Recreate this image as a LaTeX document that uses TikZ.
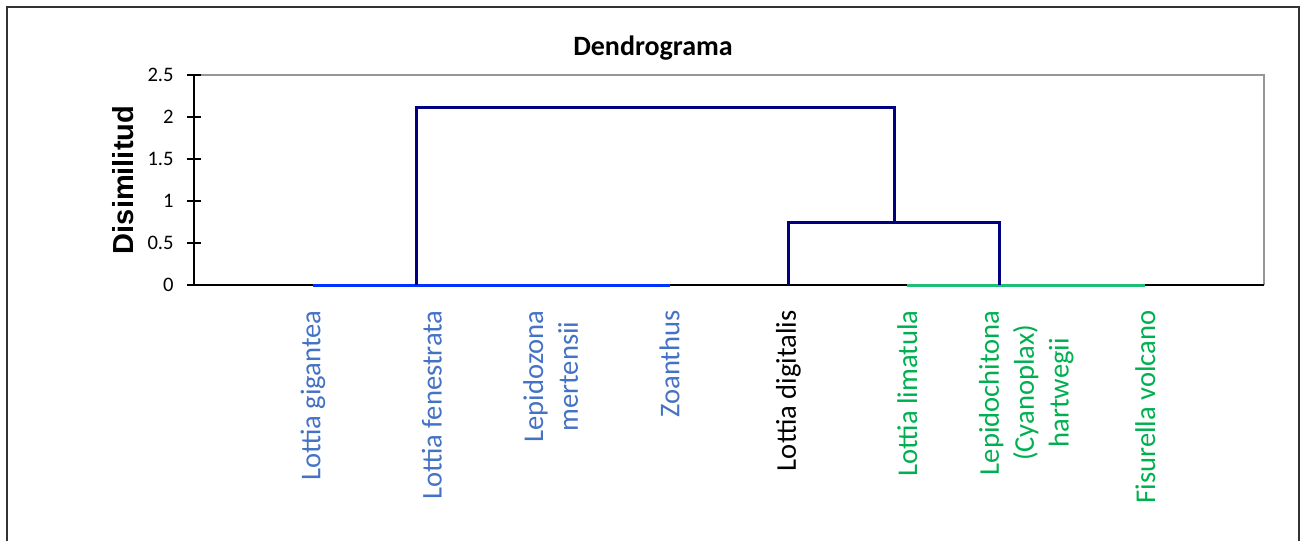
\documentclass[tikz,border=0pt]{standalone}
\usepackage{fontspec}
\setmainfont{Carlito}
\newfontfamily\arialfont{Liberation Sans}
\usepackage{tikz}
\usetikzlibrary{calc}
\definecolor{navylink}{RGB}{0,0,128}
\definecolor{bluezero}{RGB}{0,51,255}
\definecolor{greenzero}{RGB}{30,192,120}
\definecolor{bluetext}{RGB}{68,114,196}
\definecolor{greentext}{RGB}{0,176,80}
\definecolor{plotframe}{RGB}{150,150,150}

\begin{document}
\begin{tikzpicture}[x=0.5pt,y=-0.5pt]
      \tikzstyle{link}  = [draw=navylink, line width=1.5pt]
      \tikzstyle{zeroline} = [line width=1.5pt]
      \tikzstyle{leaf}=[
        rotate=90,
        anchor=east,
        align=center,
        inner sep=0pt,
        font=\fontsize{14.3}{17.4}\selectfont,
      ]
      \tikzstyle{ticklabel}=[anchor=east, inner sep=0pt, font=\fontsize{10.3}{12}\selectfont]

      \useasboundingbox (0,0) rectangle (1308,541);
      \draw[black!80, line width=0.9pt] (7,560) -- (7,7) -- (1299,7) -- (1299,560);

      \node[font=\fontsize{14}{17}\selectfont\bfseries] (title) at (653,48) {Dendrograma};
      \node[rotate=90, font=\arialfont\bfseries\fontsize{14.5}{17}\selectfont] (ylabel) at (123,180) {Disimilitud};

      \draw[plotframe, line width=0.8pt] (194,75) -- (1264,75) -- (1264,285);
      \draw[line width=0.8pt] (194,75) -- (194,285) -- (1264,285);
      \foreach \v in {0,0.5,1,1.5,2,2.5} {
        \draw[line width=0.8pt] (187,{285-84*\v}) -- (201,{285-84*\v});
        \node[ticklabel] (tick\v) at (174,{285-84*\v}) {\v};
      }

      \foreach \k in {1,...,8}
        \coordinate (leaf\k) at ({194+118.9*\k},285);
      \coordinate (a0) at (416,285);
      \coordinate (b1) at (894,107);
      \coordinate (b0) at (894,222);
      \coordinate (c2) at (999,222);
      \coordinate (c0) at (999,285);

      \draw[zeroline, draw=bluezero] (leaf1) -- (leaf4);
      \draw[zeroline, draw=greenzero] (leaf6) -- (leaf8);
      \draw[link] (a0) |- (b1) -- (b0);
      \draw[link] (leaf5) |- (c2) -- (c0);

      \node[leaf, bluetext] (n1) at ($(leaf1)+(0,25)$) {Lottia gigantea};
      \node[leaf, bluetext] (n2) at ($(leaf2)+(0,25)$) {Lottia fenestrata};
      \node[leaf, bluetext] (n3) at ($(leaf3)+(0,25)$) {Lepidozona\\mertensii};
      \node[leaf, bluetext] (n4) at ($(leaf4)+(0,25)$) {Zoanthus};
      \node[leaf, black] (n5) at ($(leaf5)+(0,25)$) {Lottia digitalis};
      \node[leaf, greentext] (n6) at ($(leaf6)+(0,25)$) {Lottia limatula};
      \node[leaf, greentext] (n7) at ($(leaf7)+(0,25)$) {Lepidochitona\\(Cyanoplax)\\hartwegii};
      \node[leaf, greentext] (n8) at ($(leaf8)+(0,25)$) {Fisurella volcano};
    \end{tikzpicture}
\end{document}
